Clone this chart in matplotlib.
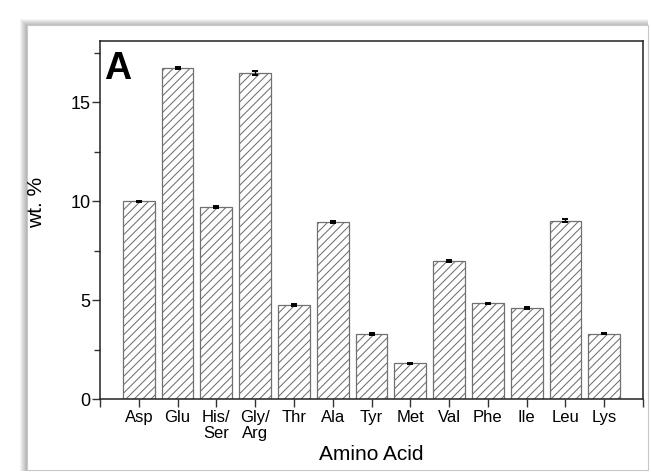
import numpy as np
import matplotlib
matplotlib.use("Agg")
import matplotlib.pyplot as plt
from matplotlib.patches import Rectangle

# -----------------------------
# Data
# -----------------------------
amino_acids = ["Asp", "Glu", "His/\nSer", "Gly/\nArg", "Thr", "Ala", "Tyr",
               "Met", "Val", "Phe", "Ile", "Leu", "Lys"]
wt_percent = [10.0, 16.75, 9.7, 16.5, 4.75, 8.95, 3.28, 1.8, 6.97, 4.83,
              4.6, 9.02, 3.3]
wt_err = [0.03, 0.06, 0.05, 0.1, 0.04, 0.07, 0.04, 0.02, 0.04, 0.04,
          0.03, 0.08, 0.03]

plt.rcParams["font.family"] = ["Liberation Sans", "DejaVu Sans"]
plt.rcParams["hatch.linewidth"] = 0.75

fig = plt.figure(figsize=(6.51, 4.75), dpi=100)
fig.patch.set_facecolor("white")

W, H = 651.0, 475.0

# -----------------------------
# Panel with drop shadow
# -----------------------------
px0, py0, px1, py1 = 27, 25, 648, 470  # pixel box (from top-left)
for k in range(1, 8):
    fig.patches.append(Rectangle(
        ((px0 - k) / W, 1 - (py1 + 1) / H),
        (px1 - px0 + k) / W, (py1 - py0 + k) / H,
        transform=fig.transFigure, facecolor="#000000", edgecolor="none",
        alpha=0.045, zorder=0))
fig.patches.append(Rectangle(
    (px0 / W, 1 - py1 / H), (px1 - px0) / W, (py1 - py0) / H,
    transform=fig.transFigure, facecolor="white", edgecolor="#c8c8c8",
    linewidth=0.8, zorder=1))

# -----------------------------
# Axes
# -----------------------------
ax = fig.add_axes([100 / W, 1 - 399 / H, 543 / W, 358 / H])
ax.set_facecolor("none")
ax.set_zorder(2)

x = np.arange(len(amino_acids))
ax.bar(x, wt_percent, width=0.82, facecolor="white", edgecolor="#707070",
       hatch="////", linewidth=0.9)
ax.errorbar(x, wt_percent, yerr=wt_err, fmt="none", ecolor="black",
            elinewidth=1.0, capsize=2.3, capthick=1.4)

ax.set_xlim(-1, 13)
ax.set_ylim(0, 18.1)

ax.set_xticks(x)
ax.set_xticklabels(amino_acids, fontsize=12, linespacing=1.05)
ax.set_xticks([-1, 13], minor=True)
ax.tick_params(axis="x", which="both", length=6, width=1, direction="out",
               pad=2, color="#333333")

ax.set_yticks([0, 5, 10, 15])
ax.set_yticks([2.5, 7.5, 12.5, 17.5], minor=True)
ax.tick_params(axis="y", which="major", length=6, width=1, labelsize=13,
               pad=1, color="#333333")
ax.tick_params(axis="y", which="minor", length=4, width=1, color="#333333")

for s in ax.spines.values():
    s.set_linewidth(1.1)
    s.set_color("#222222")

ax.set_xlabel("Amino Acid", fontsize=15, labelpad=3)
ax.set_ylabel("wt. %", fontsize=15)
ax.yaxis.set_label_coords(-0.1, 0.55)

ax.text(0.008, 0.972, "A", transform=ax.transAxes, ha="left", va="top",
        fontsize=27, fontweight="bold")

fig.savefig("out.png", dpi=100)
plt.close(fig)
